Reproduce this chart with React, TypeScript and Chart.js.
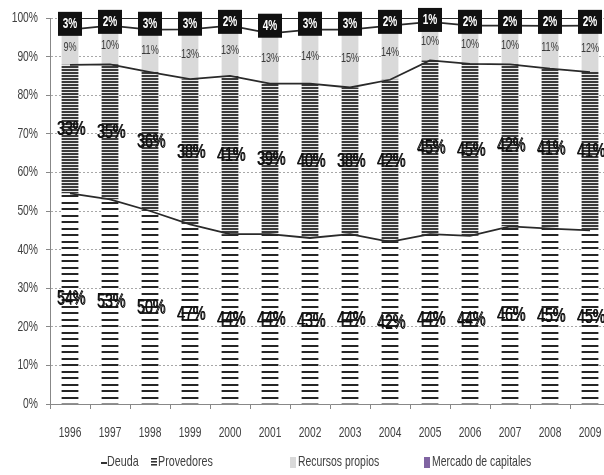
import React, { useEffect, useRef } from "react";
import { Chart, registerables } from "chart.js";

Chart.register(...registerables);

// ---- data ----
const years = ["1996", "1997", "1998", "1999", "2000", "2001", "2002", "2003", "2004", "2005", "2006", "2007", "2008", "2009"];
const deuda = [54, 53, 50, 47, 44, 44, 43, 44, 42, 44, 44, 46, 45, 45];
const proveedores = [33, 35, 36, 38, 41, 39, 40, 38, 42, 45, 45, 42, 41, 41];
const recursos = [9, 10, 11, 13, 13, 13, 14, 15, 14, 10, 10, 10, 11, 12];
const mercado = [3, 2, 3, 3, 2, 4, 3, 3, 2, 1, 2, 2, 2, 2];
const seriesNames = ["Deuda", "Provedores", "Recursos propios", "Mercado de capitales"];

const FF = '"Liberation Sans", Arial, sans-serif';

const series = [deuda, proveedores, recursos, mercado];
const totals = years.map((_, j) => series.reduce((s, arr) => s + arr[j], 0));
const norm = series.map((arr) => arr.map((v, j) => (v / totals[j]) * 100));
const cumul = norm.map((_, k) => years.map((__, j) => norm.slice(0, k + 1).reduce((s, arr) => s + arr[j], 0)));

function makeStripes(ctx: CanvasRenderingContext2D, period: number, rows: [number, number][], bg: string, fg: string) {
  const c = document.createElement("canvas");
  c.width = 4;
  c.height = period;
  const x = c.getContext("2d")!;
  x.fillStyle = bg;
  x.fillRect(0, 0, 4, period);
  x.fillStyle = fg;
  rows.forEach(([y, h]) => x.fillRect(0, y, 4, h));
  return ctx.createPattern(c, "repeat")!;
}

// condensed text: draw with a horizontal squeeze
function txt(
  ctx: CanvasRenderingContext2D,
  s: string,
  x: number,
  y: number,
  size: number,
  color: string,
  sx: number,
  align: CanvasTextAlign = "center",
  weight = "normal"
) {
  ctx.save();
  ctx.translate(x, y);
  ctx.scale(sx, 1);
  ctx.font = `${weight} ${size}px ${FF}`;
  ctx.fillStyle = color;
  ctx.textAlign = align;
  ctx.textBaseline = "middle";
  ctx.fillText(s, 0, 0);
  ctx.restore();
}

const labelPlugin = {
  id: "segLabels",
  afterDatasetsDraw(chart: any) {
    const ctx = chart.ctx as CanvasRenderingContext2D;
    for (let di = 0; di < 4; di++) {
      const meta = chart.getDatasetMeta(di);
      meta.data.forEach((el: any, j: number) => {
        const p = el.getProps(["x", "y", "base"], true);
        const cy = (p.y + p.base) / 2;
        const t = series[di][j] + "%";
        if (di < 2) {
          txt(ctx, t, p.x + 1, cy, 21, "#111", 0.68);
          txt(ctx, t, p.x + 1.7, cy + 0.5, 21, "#111", 0.68);
        } else if (di === 2) {
          txt(ctx, t, p.x, cy, 13, "#3a3a3a", 0.7);
        } else {
          ctx.fillStyle = "#111";
          ctx.fillRect(p.x - 12, cy - 12, 24, 24);
          txt(ctx, t, p.x, cy, 14, "#fff", 0.72, "center", "bold");
        }
      });
    }
  },
  afterDraw(chart: any) {
    const ctx = chart.ctx as CanvasRenderingContext2D;
    // axis tick labels, positioned by the library's scales
    const ys = chart.scales.y;
    ys.ticks.forEach((t: any) => {
      txt(ctx, t.value + "%", 38, ys.getPixelForValue(t.value), 14.5, "#404040", 0.71, "right");
    });
    const xs = chart.scales.x;
    years.forEach((lab, i) => {
      txt(ctx, lab, xs.getPixelForValue(i), 433, 15, "#404040", 0.68, "center");
    });
    // legend
    const cy = 462;
    ctx.fillStyle = "#333";
    ctx.fillRect(101, cy, 6, 2);
    txt(ctx, seriesNames[0], 107, cy, 14.5, "#404040", 0.74, "left");
    ctx.fillStyle = "#333";
    [-4, -1, 2].forEach((dy) => ctx.fillRect(151, cy + dy, 6, 1.6));
    txt(ctx, seriesNames[1], 158, cy, 14.5, "#404040", 0.74, "left");
    ctx.fillStyle = "#d9d9d9";
    ctx.fillRect(290, cy - 5, 6, 11);
    txt(ctx, seriesNames[2], 298, cy, 14.5, "#404040", 0.72, "left");
    ctx.fillStyle = "#8064a2";
    ctx.fillRect(424, cy - 5, 6, 11);
    txt(ctx, seriesNames[3], 432, cy, 14.5, "#404040", 0.72, "left");
  },
};

export default function App() {
  const ref = useRef<HTMLCanvasElement>(null);
  useEffect(() => {
    document.body.style.margin = "0";
    document.documentElement.style.overflow = "hidden";
    const canvas = ref.current!;
    const ctx = canvas.getContext("2d")!;
    const deudaPat = makeStripes(ctx, 13, [[0, 2], [7, 2]], "#ffffff", "#262626");
    const provPat = makeStripes(ctx, 3, [[0, 2]], "#e8e8e8", "#3a3a3a");
    const fills = [deudaPat, provPat, "#d9d9d9", "#111111"];

    const barSets = norm.map((arr, k) => ({
      type: "bar" as const,
      label: seriesNames[k],
      data: arr,
      backgroundColor: fills[k],
      borderWidth: 0,
      barPercentage: 0.42,
      categoryPercentage: 1,
      order: 1,
    }));
    const lineSets = cumul.map((arr, k) => ({
      type: "line" as const,
      label: "line" + k,
      data: arr,
      borderColor: "#2a2a2a",
      borderWidth: 1.8,
      pointRadius: 0,
      fill: false,
      tension: 0,
      stack: "l" + k,
      order: 0,
    }));

    const chart = new Chart(canvas, {
      type: "bar",
      data: { labels: years, datasets: [...barSets, ...lineSets] as any },
      options: {
        animation: false,
        responsive: false,
        devicePixelRatio: 1,
        layout: { padding: { left: 0, top: 18, right: 10, bottom: 0 } },
        plugins: { legend: { display: false }, tooltip: { enabled: false } },
        scales: {
          x: {
            stacked: true,
            grid: { display: true, drawOnChartArea: false, drawTicks: true, tickLength: 5, color: "#888", offset: true },
            border: { display: true, color: "#888", width: 1 },
            ticks: { display: false },
            afterFit: (s: any) => {
              s.height = 71;
            },
          },
          y: {
            stacked: true,
            min: 0,
            max: 100,
            ticks: { stepSize: 10, display: false },
            grid: { color: "#a8a8a8", lineWidth: 1, tickLength: 4, tickColor: "#888", drawTicks: true },
            border: { display: true, color: "#888", width: 1, dash: [2, 2] },
            afterFit: (s: any) => {
              s.width = 50;
            },
          },
        },
      } as any,
      plugins: [labelPlugin],
    });
    return () => chart.destroy();
  }, []);

  return (
    <div style={{ width: 604, height: 475, overflow: "hidden", position: "relative" }}>
      <canvas ref={ref} width={620} height={475} style={{ display: "block" }} />
    </div>
  );
}
